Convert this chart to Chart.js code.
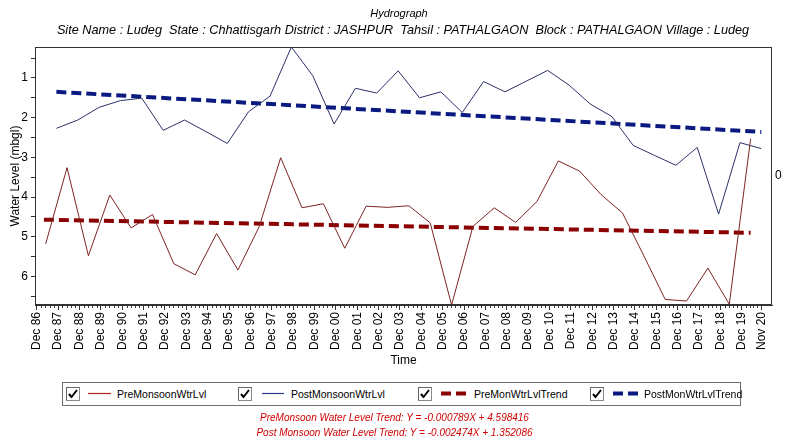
<!DOCTYPE html>
<html>
<head>
<meta charset="utf-8">
<script src="https://cdn.jsdelivr.net/npm/chart.js@4.4.1/dist/chart.umd.min.js"></script>
<style>
html, body { margin: 0; padding: 0; background: #fff; }
#wrap { position: relative; width: 789px; height: 441px; font-family: "Liberation Sans", Arial, sans-serif; }
#wrap canvas { position: absolute; left: 0; top: 0; }
.ttl { position: absolute; white-space: nowrap; font-style: italic; color: #000; transform: translateX(-50%); }
.legend { position: absolute; left: 62px; top: 382px; width: 679px; height: 24px; box-sizing: border-box; border: 1px solid #6e6e6e; background: #fff; }
.cb { position: absolute; top: 4px; width: 14px; height: 14px; box-sizing: border-box; border: 1px solid #8a8a8a; border-top-color: #666; border-left-color: #666; background: #fff; }
.cb svg { position: absolute; left: 0; top: 0; }
.ls { position: absolute; top: 9px; }
.lt { position: absolute; top: 4px; font-size: 10.5px; line-height: 14px; color: #000; white-space: nowrap; }
.trend { position: absolute; left: 0; width: 789px; text-align: center; color: #d00000; font-style: italic; font-size: 10px; line-height: 12px; }
</style>
</head>
<body>
<div id="wrap">
  <canvas id="myChart" width="789" height="441"></canvas>
  <div class="ttl" style="left:399px;top:7px;font-size:11px;line-height:13px">Hydrograph</div>
  <div class="ttl" style="left:403px;top:23px;font-size:12.7px;line-height:15px">Site Name : Ludeg&nbsp; State : Chhattisgarh District : JASHPUR&nbsp; Tahsil : PATHALGAON&nbsp; Block : PATHALGAON Village : Ludeg</div>
  <div class="legend">
    <div class="cb" style="left:3px"><svg width="12" height="12"><polyline points="2,6 4.5,9 10,2" fill="none" stroke="#000" stroke-width="2"/></svg></div>
    <svg class="ls" style="left:25px" width="24" height="3"><line x1="0" y1="1.5" x2="23" y2="1.5" stroke="#b22222" stroke-width="1.2"/></svg>
    <div class="lt" style="left:54px">PreMonsoonWtrLvl</div>

    <div class="cb" style="left:175px"><svg width="12" height="12"><polyline points="2,6 4.5,9 10,2" fill="none" stroke="#000" stroke-width="2"/></svg></div>
    <svg class="ls" style="left:199px" width="24" height="3"><line x1="0" y1="1.5" x2="22" y2="1.5" stroke="#2b3a8f" stroke-width="1.2"/></svg>
    <div class="lt" style="left:228px">PostMonsoonWtrLvl</div>

    <div class="cb" style="left:355px"><svg width="12" height="12"><polyline points="2,6 4.5,9 10,2" fill="none" stroke="#000" stroke-width="2"/></svg></div>
    <svg class="ls" style="left:378px;top:8px" width="26" height="5"><line x1="0" y1="2.5" x2="26" y2="2.5" stroke="#8b0000" stroke-width="4" stroke-dasharray="10,5"/></svg>
    <div class="lt" style="left:411px">PreMonWtrLvlTrend</div>

    <div class="cb" style="left:527px"><svg width="12" height="12"><polyline points="2,6 4.5,9 10,2" fill="none" stroke="#000" stroke-width="2"/></svg></div>
    <svg class="ls" style="left:550px;top:8px" width="26" height="5"><line x1="0" y1="2.5" x2="26" y2="2.5" stroke="#0a1a80" stroke-width="4" stroke-dasharray="10,5"/></svg>
    <div class="lt" style="left:581px">PostMonWtrLvlTrend</div>
  </div>
  <div class="trend" style="top:412px">PreMonsoon Water Level Trend: Y = -0.000789X + 4.598416</div>
  <div class="trend" style="top:427px">Post Monsoon Water Level Trend: Y = -0.002474X + 1.352086</div>
</div>
<script>
const ctx = document.getElementById('myChart').getContext('2d');

// x axis labels (one per year, last one is Nov 20)
const tickLabels = [
    "Dec 86", "Dec 87", "Dec 88", "Dec 89", "Dec 90", "Dec 91", "Dec 92", "Dec 93",
    "Dec 94", "Dec 95", "Dec 96", "Dec 97", "Dec 98", "Dec 99", "Dec 00", "Dec 01",
    "Dec 02", "Dec 03", "Dec 04", "Dec 05", "Dec 06", "Dec 07", "Dec 08", "Dec 09",
    "Dec 10", "Dec 11", "Dec 12", "Dec 13", "Dec 14", "Dec 15", "Dec 16", "Dec 17",
    "Dec 18", "Dec 19", "Nov 20"
]

const years = [
    1987, 1988, 1989, 1990, 1991, 1992, 1993, 1994, 1995, 1996, 1997, 1998,
    1999, 2000, 2001, 2002, 2003, 2004, 2005, 2006, 2007, 2008, 2009, 2010,
    2011, 2012, 2013, 2014, 2015, 2016, 2017, 2018, 2019, 2020
]

// pre monsoon readings (May), metres below ground level
const preMonsoon = [
    5.18, 3.26, 5.48, 3.95, 4.78, 4.44, 5.68, 5.96, 4.92, 5.84, 4.74, 3.01,
    4.27, 4.17, 5.29, 4.23, 4.26, 4.22, 4.65, 6.72, 4.74, 4.27, 4.64, 4.11,
    3.09, 3.35, 3.94, 4.40, 5.48, 6.58, 6.62, 5.79, 6.70, 2.53
]

// post monsoon readings (Nov)
const postMonsoon = [
    2.27, 2.06, 1.74, 1.57, 1.51, 2.32, 2.06, 2.35, 2.65, 1.85, 1.46, 0.22,
    0.94, 2.16, 1.26, 1.38, 0.82, 1.50, 1.35, 1.87, 1.09, 1.35, 1.08, 0.81,
    1.18, 1.66, 1.97, 2.70, 2.95, 3.20, 2.75, 4.43, 2.63, 2.78
]

// trend lines, value at first and last reading
const preTrend = [4.57, 4.90]
const postTrend = [1.35, 2.36]

const yTicks = [0.5, 1, 1.5, 2, 2.5, 3, 3.5, 4, 4.5, 5, 5.5, 6, 6.5]

const MON = { Jan: 1, Feb: 2, Mar: 3, Apr: 4, May: 5, Jun: 6, Jul: 7, Aug: 8, Sep: 9, Oct: 10, Nov: 11, Dec: 12 };

// months counted from Dec 1986
function monthPos(year, month) {
    return (year - 1987) * 12 + month;
}
function labelPos(lbl) {
    const parts = lbl.split(" ");
    const yy = parseInt(parts[1], 10);
    return monthPos(yy < 50 ? 2000 + yy : 1900 + yy, MON[parts[0]]);
}
const tickPos = tickLabels.map(labelPos);

const preData = years.map((y, i) => ({ x: monthPos(y, MON.May), y: preMonsoon[i] }));
const postData = years.map((y, i) => ({ x: monthPos(y, MON.Nov), y: postMonsoon[i] }));
const last = years.length - 1;
const preTrendData = [
    { x: monthPos(years[0], MON.Apr), y: preTrend[0] },
    { x: monthPos(years[last], MON.May), y: preTrend[1] }
];
const postTrendData = [
    { x: monthPos(years[0], MON.Nov), y: postTrend[0] },
    { x: monthPos(years[last], MON.Nov), y: postTrend[1] }
];

Chart.defaults.font.family = "'Liberation Sans', Arial, sans-serif";
Chart.defaults.color = "#000";

// frame around the plot, minor ticks on x, stray "0" at the right
const framePlugin = {
    id: 'frame',
    afterDatasetsDraw(chart) {
        const a = chart.chartArea;
        const c = chart.ctx;
        const xs = chart.scales.x;
        c.save();
        c.strokeStyle = '#333';
        c.lineWidth = 1;
        c.strokeRect(Math.round(a.left) + 0.5, Math.round(a.top) + 0.5,
            Math.round(a.right - a.left) - 1, Math.round(a.bottom - a.top) - 1);
        c.beginPath();
        for (let i = 0; i < tickPos.length - 1; i++) {
            const step = (tickPos[i + 1] - tickPos[i]) / 5;
            for (let k = 1; k < 5; k++) {
                const px = Math.round(xs.getPixelForValue(tickPos[i] + k * step)) + 0.5;
                c.moveTo(px, a.bottom);
                c.lineTo(px, a.bottom + 3);
            }
        }
        c.stroke();
        c.fillStyle = '#000';
        c.font = "12px 'Liberation Sans', Arial, sans-serif";
        c.textBaseline = 'middle';
        c.fillText('0', a.right + 3, 176);
        c.restore();
    }
};

const data = {
    datasets: [{
        label: "PreMonsoonWtrLvl",
        data: preData,
        borderColor: "#7d2323",
        borderWidth: 1,
        pointRadius: 0,
        fill: false
    },
    {
        label: "PostMonsoonWtrLvl",
        data: postData,
        borderColor: "#2b3266",
        borderWidth: 1,
        pointRadius: 0,
        fill: false
    },
    {
        label: "PreMonWtrLvlTrend",
        data: preTrendData,
        borderColor: "#8b0000",
        borderWidth: 4,
        borderDash: [10, 5],
        pointRadius: 0,
        fill: false
    },
    {
        label: "PostMonWtrLvlTrend",
        data: postTrendData,
        borderColor: "#0a1a80",
        borderWidth: 4,
        borderDash: [10, 5],
        pointRadius: 0,
        fill: false
    }
    ]
};

const config = {
    type: "line",
    data: data,
    plugins: [framePlugin],
    options: {
        responsive: false,
        animation: false,
        layout: { padding: { top: 47, left: 0, right: 17, bottom: 73 } },
        plugins: {
            legend: { display: false },
            tooltip: { enabled: false },
            title: { display: false },
            subtitle: { display: false }
        },
        scales: {
            x: {
                type: "linear",
                min: -1,
                max: 413,
                afterBuildTicks: function(scale) {
                    scale.ticks = tickPos.map(v => ({ value: v }));
                },
                afterFit: function(scale) { scale.height = 63; },
                ticks: {
                    autoSkip: false,
                    minRotation: 90,
                    maxRotation: 90,
                    padding: 2,
                    font: { size: 12 },
                    callback: function(value, index) {
                        return tickLabels[index];
                    }
                },
                grid: { drawOnChartArea: false, drawTicks: true, tickLength: 5, color: "#333" },
                border: { display: true, color: "#333" },
                title: { display: true, text: "Time", font: { size: 12 }, padding: 0 }
            },
            y: {
                type: "linear",
                reverse: true,
                min: 0.22,
                max: 6.72,
                afterBuildTicks: function(scale) {
                    scale.ticks = yTicks.map(v => ({ value: v }));
                },
                afterFit: function(scale) { scale.width = 35; },
                ticks: {
                    padding: 3,
                    font: { size: 12 },
                    callback: function(value) {
                        return Number.isInteger(value) ? value : "";
                    }
                },
                grid: { drawOnChartArea: false, drawTicks: true, tickLength: 4, color: "#333" },
                border: { display: true, color: "#333" },
                title: { display: true, text: "Water Level (mbgl)", font: { size: 12 }, padding: { top: 8, bottom: 0 } }
            }
        }
    }
};

const myChart = new Chart(ctx, config);
</script>
</body>
</html>
